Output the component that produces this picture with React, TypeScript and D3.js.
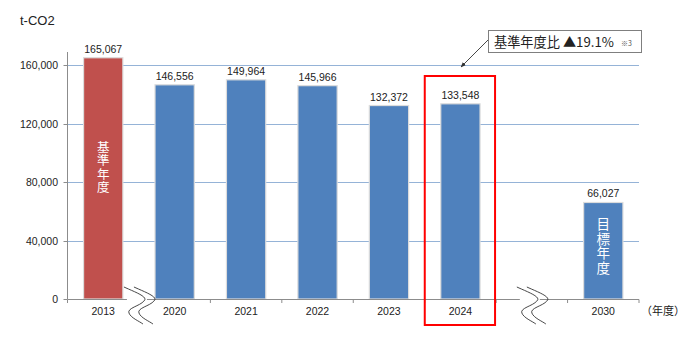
import React from "react";
import * as d3 from "d3";

const categories = ["2013", "2020", "2021", "2022", "2023", "2024", "gap", "2030"];
const values: (number | null)[] = [165067, 146556, 149964, 145966, 132372, 133548, null, 66027];
const yTicks = [0, 40000, 80000, 120000, 160000];
const baseLabel = "基準年度";
const targetLabel = "目標年度";

const W = 690, H = 352;
const JP = "'Noto Sans CJK JP', 'Liberation Sans', sans-serif";
const NUM = "'Liberation Sans', Arial, sans-serif";
const BLUE = "#4F81BD";
const RED = "#C0504D";
const AXIS = "#8c8c8c";
const GRID = "#95B3D7";

export default function App() {
  const x = d3.scaleBand<string>().domain(categories).range([67.5, 639]).paddingInner(0.45).paddingOuter(0.225);
  const y = d3.scaleLinear().domain([0, 169000]).range([299, 52]);
  const step = x.step();
  const x0 = 67.5;
  const fmt = d3.format(",");

  const breakPath = (cx: number) => {
    const p = d3.path();
    p.moveTo(cx - 13, 287);
    p.bezierCurveTo(cx - 2, 292, cx + 12, 297, cx + 7, 301);
    p.bezierCurveTo(cx + 3, 306, cx - 10, 308, cx - 8, 313);
    p.bezierCurveTo(cx - 6, 318, cx + 2, 321, cx + 6, 324);
    return p.toString();
  };

  const break1 = (x("2013")! + x.bandwidth() + x("2020")!) / 2;
  const break2 = x("gap")! + x.bandwidth() / 2;

  const box = { x: x("2024")! - 16, y: 76, w: x.bandwidth() + 32 - 1, h: 249 };

  return (
    <div style={{ position: "absolute", left: 0, top: 0 }}>
      <svg width={W} height={H} style={{ display: "block", background: "#fff" }}>
        <defs>
          <marker id="ah" viewBox="0 0 10 10" refX="9" refY="5" markerWidth="6" markerHeight="6" orient="auto-start-reverse">
            <path d="M0,1 L10,5 L0,9 z" fill="#333" />
          </marker>
        </defs>
        <text x={20} y={25} fontFamily={NUM} fontSize={13} fill="#222">t-CO2</text>
        {yTicks.filter(t => t > 0).map(t => (
          <line key={t} x1={x0} x2={639} y1={Math.round(y(t)) + 0.5} y2={Math.round(y(t)) + 0.5} stroke={GRID} strokeWidth={1} />
        ))}
        <line x1={x0} x2={x0} y1={y.range()[1]} y2={y(0)} stroke={AXIS} strokeWidth={1} />
        {yTicks.map(t => (
          <g key={t}>
            <line x1={x0 - 4} x2={x0} y1={Math.round(y(t)) + 0.5} y2={Math.round(y(t)) + 0.5} stroke={AXIS} />
            <text x={58} y={y(t) + 4} textAnchor="end" fontFamily={NUM} fontSize={10.5} fill="#222">{fmt(t)}</text>
          </g>
        ))}
        {categories.map((c, i) => {
          const v = values[i];
          if (v == null) return null;
          const bx = x(c)!;
          return (
            <g key={c}>
              <rect x={bx} y={y(v)} width={x.bandwidth()} height={y(0) - y(v)} fill={i === 0 ? RED : BLUE} stroke="#dcdcdc" strokeWidth={1.2} />
              <text x={bx + x.bandwidth() / 2} y={y(v) - 5} textAnchor="middle" fontFamily={NUM} fontSize={10.5} fill="#222">{fmt(v)}</text>
            </g>
          );
        })}
        <text x={x("2013")! + x.bandwidth() / 2} y={167.5} textAnchor="middle" fontFamily={JP} fontSize={12.5}
          letterSpacing={1} fill="#fff" style={{ writingMode: "vertical-rl" }}>{baseLabel}</text>
        <text x={x("2030")! + x.bandwidth() / 2} y={246.5} textAnchor="middle" fontFamily={JP} fontSize={13.5}
          letterSpacing={1} fill="#fff" style={{ writingMode: "vertical-rl" }}>{targetLabel}</text>
        <line x1={x0} x2={639} y1={299.5} y2={299.5} stroke={AXIS} strokeWidth={1} />
        {d3.range(categories.length + 1).filter(k => k !== 1).map(k => (
          <line key={k} x1={x0 + k * step} x2={x0 + k * step} y1={299.5} y2={303} stroke={AXIS} />
        ))}
        {categories.map(c => c === "gap" ? null : (
          <text key={c} x={x(c)! + x.bandwidth() / 2} y={315} textAnchor="middle" fontFamily={NUM} fontSize={10.5} fill="#222">{c}</text>
        ))}
        <text x={641} y={315} fontFamily={JP} fontSize={11} fill="#222">（年度）</text>
        {[break1, break2].map((cx, k) => (
          <g key={k}>
            <rect x={cx - 12} y={292} width={20} height={14} fill="#fff" />
            <path d={breakPath(cx - 2)} fill="none" stroke="#333" strokeWidth={0.9} />
            <path d={breakPath(cx + 8)} fill="none" stroke="#333" strokeWidth={0.9} />
          </g>
        ))}
        <rect x={box.x} y={box.y} width={box.w} height={box.h} fill="none" stroke="#ff0000" strokeWidth={2} />
        <line x1={488} y1={40} x2={461} y2={67} stroke="#333" strokeWidth={0.9} markerEnd="url(#ah)" />
        <rect x={488.5} y={30.5} width={153} height={22} fill="#fff" stroke="#7f7f7f" strokeWidth={1} />
        <text x={494} y={47} fontFamily={JP} fontSize={13.2} fill="#222">基準年度比 ▲19.1%</text>
        <text x={621} y={46} fontFamily={JP} fontSize={7} fill="#555">※3</text>
      </svg>
    </div>
  );
}
